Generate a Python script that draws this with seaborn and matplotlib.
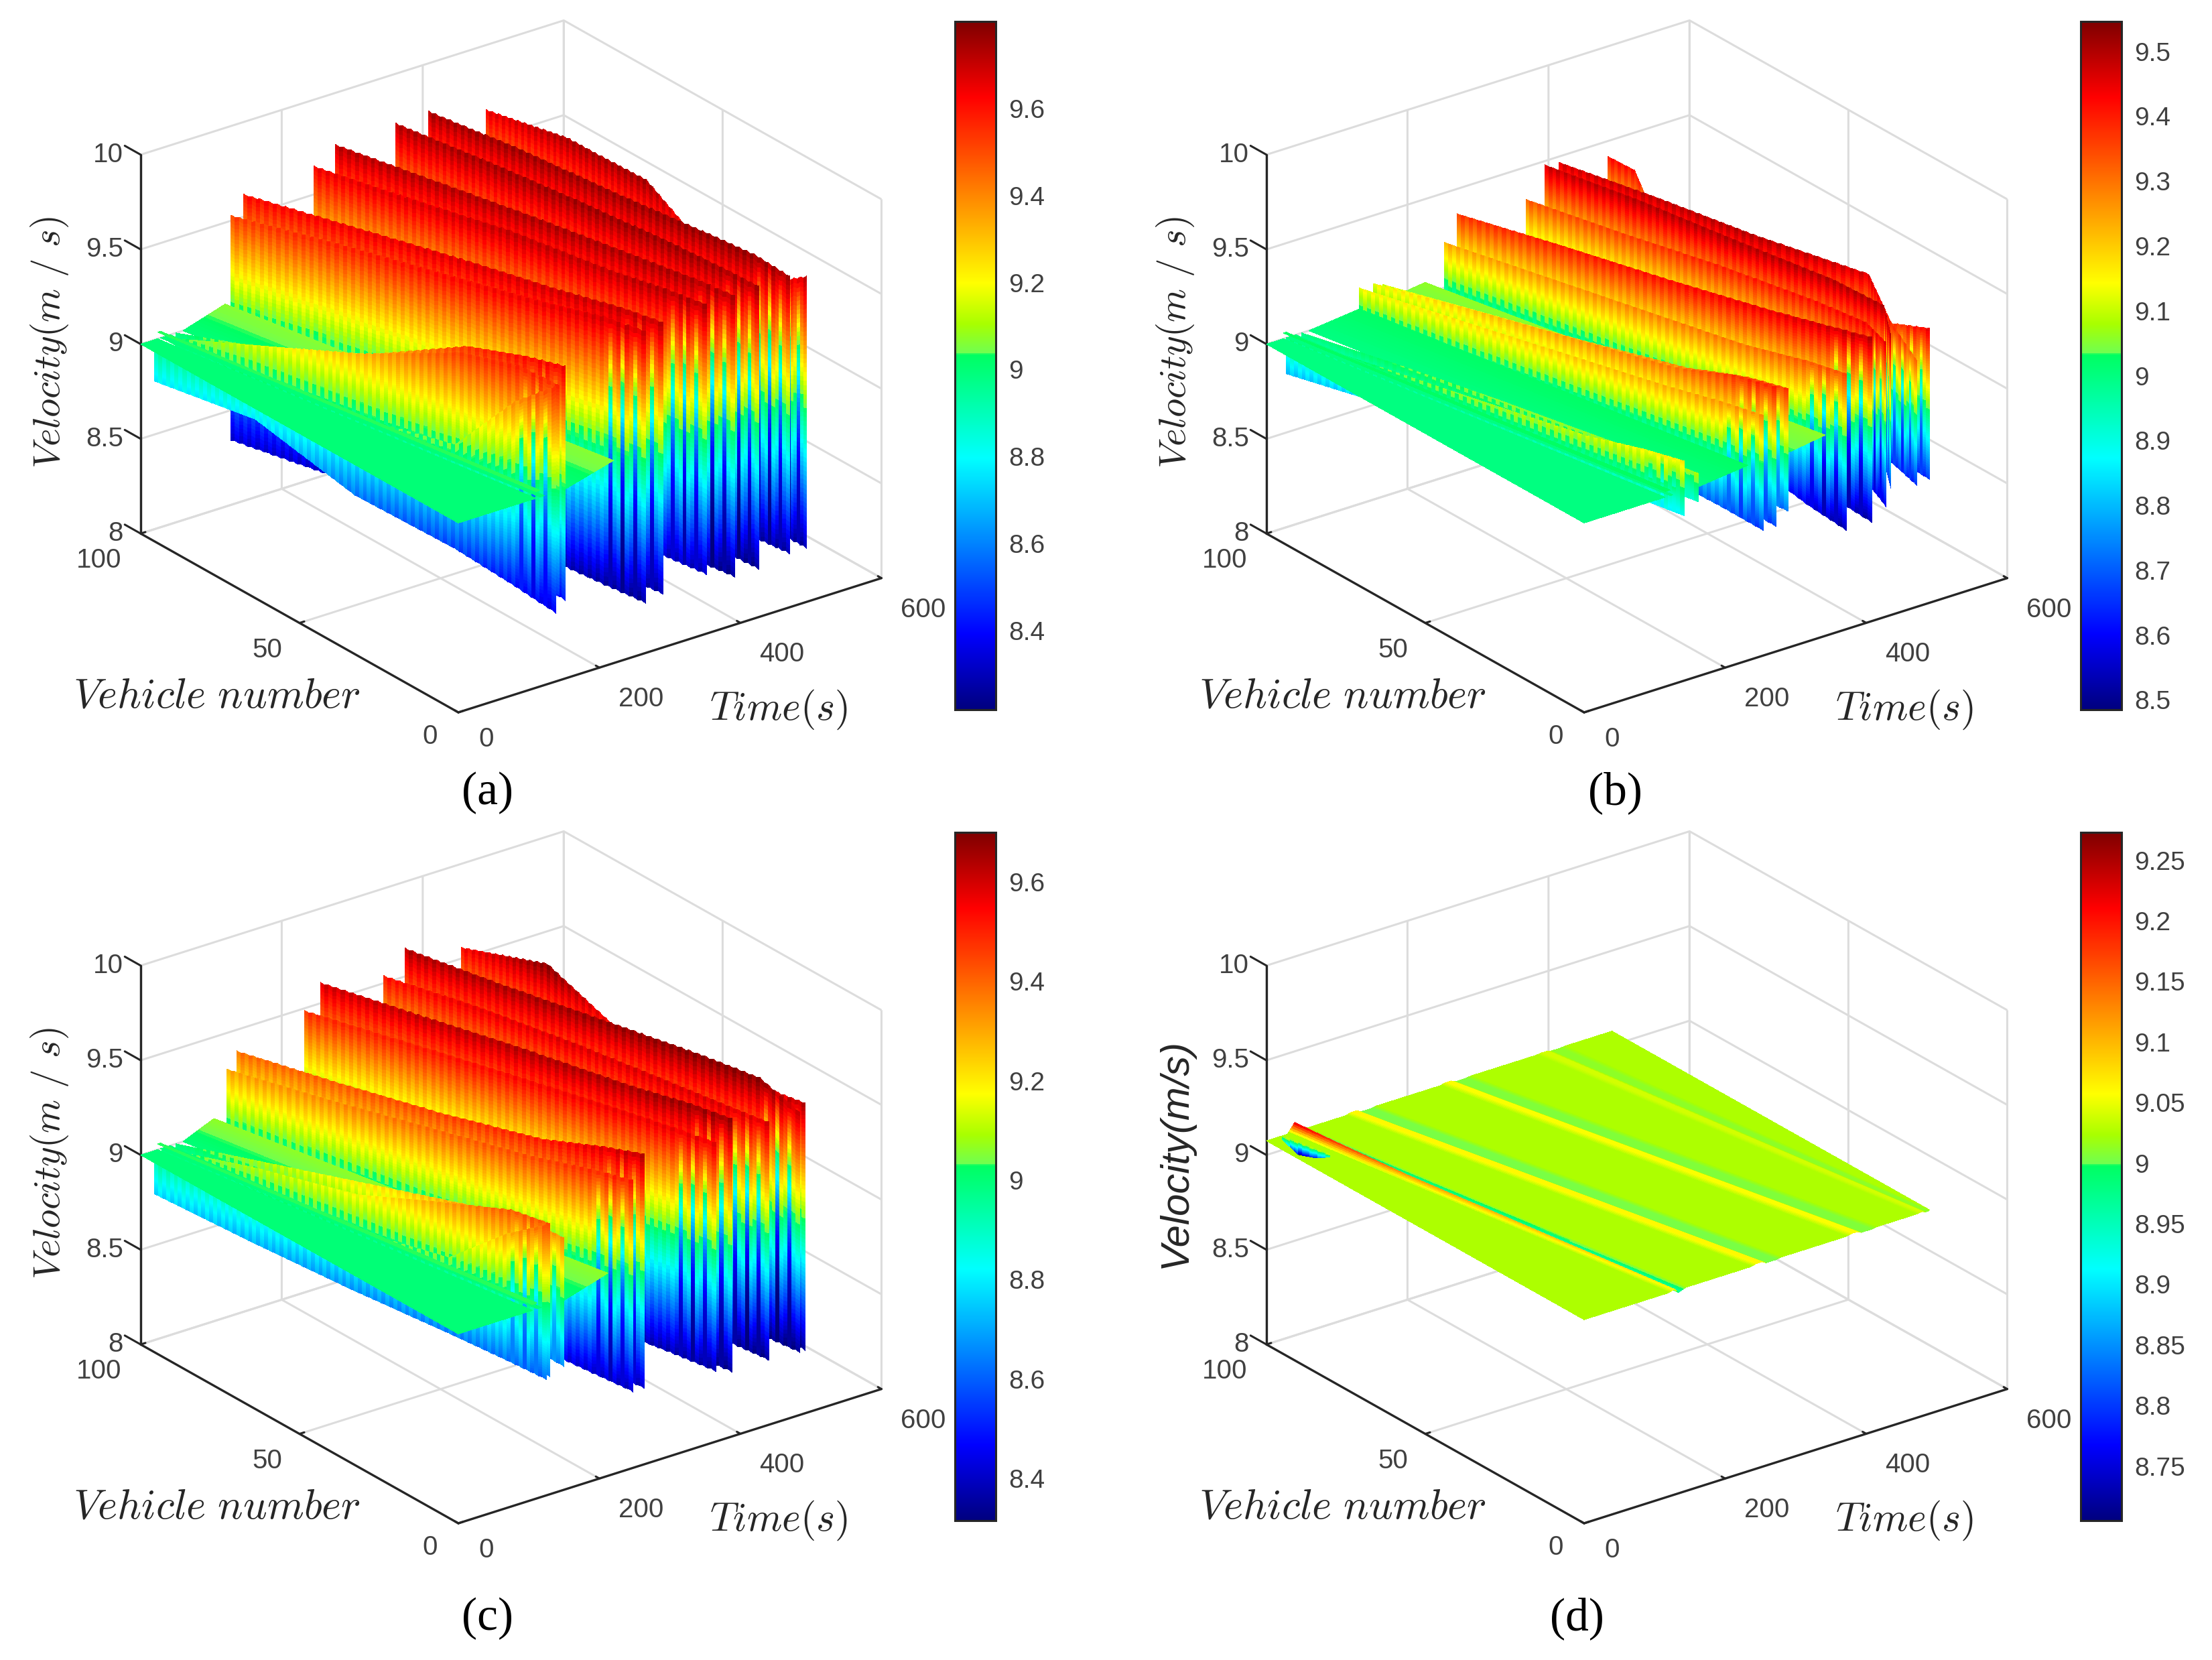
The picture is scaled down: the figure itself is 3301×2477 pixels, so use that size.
import numpy as np
import matplotlib
matplotlib.use("Agg")
import matplotlib.pyplot as plt
import seaborn as sns
from matplotlib.colors import Normalize, LinearSegmentedColormap
from matplotlib.cm import ScalarMappable
from mpl_toolkits.mplot3d import proj3d

sns.set_theme(style="white")
plt.rcParams['font.family'] = ['Liberation Sans', 'DejaVu Sans']
plt.rcParams['mathtext.fontset'] = 'cm'

W_PX, H_PX = 3301, 2477
# the colour bars are a jet with a small step just above the middle
JET_STOPS = [0.0, 0.11, 0.365, 0.516, 0.518, 0.56, 0.62, 0.89, 1.0]
JET_COLORS = ['#00007f', '#0000ff', '#00ffff', '#00ff60', '#70ff50', '#a8ff00', '#ffff00', '#ff0000', '#7f0000']
JET = LinearSegmentedColormap.from_list('jet_step', list(zip(JET_STOPS, JET_COLORS)), N=512)
sns.set_palette(sns.color_palette(JET_COLORS))

V_ST = [100, 75, 50, 25, 10, 0]

# ---- panel (a)
A_RANGE = [8.218, 9.80]
A_TICKS = [8.4, 8.6, 8.8, 9, 9.2, 9.4, 9.6]
A_T = [[20, 50, 79, 108, 126, 138], [30, 58, 86, 115, 132, 143], [50, 75, 101, 126, 142, 152],
       [128, 163, 197, 232, 252, 266], [146, 182, 218, 254, 276, 290], [246, 273, 299, 326, 341, 352],
       [276, 305, 334, 363, 380, 392], [362, 378, 394, 410, 420, 426], [408, 424, 439, 454, 464, 470],
       [490, 491, 492, 493, 494, 494]]
A_TOP = [[9.0, 9.0, 9.0, 9.05, 9.4, 9.56], [9.0, 9.16, 9.32, 9.53, 9.58, 9.56], [9.0, 9.12, 9.3, 9.55, 9.62, 9.65],
         [9.53, 9.58, 9.62, 9.66, 9.7, 9.7], [9.62, 9.65, 9.68, 9.7, 9.72, 9.72], [9.65, 9.68, 9.72, 9.72, 9.74, 9.74],
         [9.73, 9.74, 9.75, 9.75, 9.75, 9.74], [9.74, 9.76, 9.77, 9.77, 9.76, 9.75], [9.75, 9.77, 9.77, 9.78, 9.78, 9.75],
         [9.66, 9.75, 9.76, 9.5, 9.6, 9.72]]
A_BOT = [[8.78, 8.78, 8.58, 8.5, 8.42, 8.36], [9.0, 8.9, 8.8, 8.7, 8.5, 8.45], [8.95, 8.85, 8.7, 8.55, 8.45, 8.41],
         [8.34, 8.34, 8.33, 8.31, 8.28, 8.26], [8.4, 8.38, 8.35, 8.32, 8.3, 8.28], [8.4, 8.38, 8.36, 8.33, 8.32, 8.31],
         [8.35, 8.33, 8.3, 8.28, 8.26, 8.25], [8.35, 8.33, 8.3, 8.28, 8.26, 8.25], [8.35, 8.33, 8.31, 8.3, 8.28, 8.28],
         [8.35, 8.33, 8.31, 8.3, 8.28, 8.28]]
# flat parts: time of near edge at v=100/v=0, far edge at v=100/v=0, height near/far
A_SHELF = [[0, 0, 24, 110, 9.0, 9.0], [24, 110, 28, 116, 9.035, 9.035], [28, 116, 42, 122, 9.0, 9.0],
           [60, 152, 120, 220, 9.0, 9.07]]

# ---- panel (b)
B_RANGE = [8.485, 9.546]
B_TICKS = [8.5, 8.6, 8.7, 8.8, 8.9, 9, 9.1, 9.2, 9.3, 9.4, 9.5]
B_T = [[28, 56, 85, 114, 131, 142], [32, 60, 87, 115, 131, 142], [50, 78, 106, 134, 151, 162],
       [132, 162, 193, 224, 242, 254], [152, 182, 212, 242, 260, 272], [165, 196, 227, 258, 277, 289],
       [252, 282, 312, 342, 360, 372], [270, 304, 339, 374, 394, 408], [368, 392, 416, 440, 445, 428],
       [395, 418, 441, 466, 470, 435], [415, 441, 466, 516, 480, 472], [486, 486, 487, 488, 489, 490]]
B_TOP = [[9.0, 9.0, 9.0, 9.0, 9.0, 9.0], [9.0, 9.03, 9.06, 9.09, 9.14, 9.16], [9.0, 9.03, 9.05, 9.06, 9.07, 9.07],
         [9.14, 9.17, 9.2, 9.23, 9.26, 9.27], [9.14, 9.2, 9.25, 9.3, 9.38, 9.4], [9.12, 9.17, 9.22, 9.28, 9.35, 9.37],
         [9.24, 9.26, 9.28, 9.3, 9.34, 9.35], [9.37, 9.4, 9.42, 9.45, 9.48, 9.5], [9.33, 9.36, 9.4, 9.42, 9.44, 9.45],
         [9.48, 9.5, 9.5, 9.5, 9.5, 9.48], [9.47, 9.49, 9.5, 9.47, 9.4, 9.3], [9.1, 9.1, 9.1, 9.25, 9.38, 9.45]]
B_BOT = [[8.81, 8.85, 8.88, 8.88, 8.87, 8.87], [8.98, 8.95, 8.92, 8.9, 8.88, 8.87], [8.98, 8.96, 8.95, 8.94, 8.92, 8.92],
         [8.95, 8.88, 8.8, 8.75, 8.7, 8.66], [8.95, 8.88, 8.8, 8.75, 8.7, 8.66], [8.98, 8.9, 8.84, 8.78, 8.74, 8.72],
         [8.98, 8.9, 8.8, 8.7, 8.58, 8.52], [8.95, 8.85, 8.75, 8.65, 8.58, 8.52], [8.9, 8.8, 8.7, 8.65, 8.6, 8.58],
         [8.9, 8.8, 8.72, 8.7, 8.68, 8.67], [8.9, 8.8, 8.72, 8.7, 8.66, 8.64], [8.9, 8.8, 8.72, 8.7, 8.66, 8.65]]
B_SHELF = [[0, 0, 24, 115, 9.0, 9.0], [24, 115, 28, 122, 9.03, 9.03], [28, 122, 42, 126, 9.0, 9.0],
           [60, 162, 132, 232, 9.0, 9.03], [165, 289, 225, 342, 9.03, 9.06]]
B_BLOCK_V = [100, 92, 88]
B_BLOCK_T = [484, 486, 486]
B_BLOCK_TOP = [9.42, 9.42, 9.3]
B_BLOCK_BOT = [9.0, 9.0, 9.0]

# ---- panel (c)
C_RANGE = [8.315, 9.70]
C_TICKS = [8.4, 8.6, 8.8, 9, 9.2, 9.4, 9.6]
C_T = [[20, 46, 72, 99, 114, 125], [30, 55, 80, 105, 120, 130], [50, 75, 100, 125, 140, 150],
       [122, 153, 185, 216, 235, 248], [136, 168, 200, 232, 251, 264], [232, 265, 298, 332, 352, 365],
       [255, 288, 322, 355, 375, 388], [345, 369, 392, 416, 430, 440], [375, 402, 430, 457, 473, 484],
       [455, 464, 474, 483, 488, 492]]
C_TOP = [[9.0, 9.0, 9.0, 9.05, 9.3, 9.43], [9.0, 9.1, 9.17, 9.33, 9.42, 9.43], [9.0, 9.1, 9.2, 9.3, 9.35, 9.33],
         [9.31, 9.35, 9.4, 9.45, 9.5, 9.52], [9.39, 9.42, 9.46, 9.52, 9.6, 9.64], [9.49, 9.52, 9.55, 9.57, 9.58, 9.58],
         [9.61, 9.63, 9.65, 9.66, 9.68, 9.68], [9.54, 9.58, 9.6, 9.6, 9.6, 9.6], [9.65, 9.66, 9.68, 9.7, 9.7, 9.6],
         [9.56, 9.7, 9.5, 9.55, 9.62, 9.64]]
C_BOT = [[8.77, 8.72, 8.68, 8.65, 8.63, 8.61], [8.98, 8.9, 8.85, 8.75, 8.65, 8.62], [8.98, 8.9, 8.8, 8.72, 8.68, 8.65],
         [8.7, 8.6, 8.5, 8.45, 8.42, 8.4], [8.5, 8.47, 8.45, 8.43, 8.41, 8.4], [8.45, 8.43, 8.41, 8.39, 8.38, 8.37],
         [8.42, 8.4, 8.38, 8.36, 8.35, 8.34], [8.42, 8.4, 8.38, 8.36, 8.35, 8.34], [8.4, 8.38, 8.36, 8.35, 8.34, 8.33],
         [8.4, 8.38, 8.36, 8.35, 8.34, 8.33]]
C_SHELF = [[0, 0, 24, 105, 9.0, 9.0], [24, 105, 28, 112, 9.03, 9.03], [28, 112, 42, 118, 9.0, 9.0],
           [60, 150, 104, 212, 9.0, 9.07]]

# ---- panel (d): lines across the nearly flat sheet at these vehicles, colour value along each line
D_RANGE = [8.705, 9.273]
D_TICKS = [8.75, 8.8, 8.85, 8.9, 8.95, 9, 9.05, 9.1, 9.15, 9.2, 9.25]
D_V = [100, 90, 70, 0]
D_LINE_T = [[0, 0, 0, 0], [30, 39, 57, 119], [40, 49, 66, 128], [46, 55, 72, 134], [56, 65, 82, 144],
            [112, 124, 149, 236], [120, 132, 157, 244], [128, 140, 165, 252], [134, 146, 171, 258], [148, 160, 185, 272], [156, 168, 193, 280],
            [246, 258, 283, 371], [254, 266, 291, 379], [262, 274, 299, 387], [268, 280, 305, 393], [282, 294, 319, 407], [290, 302, 327, 415],
            [382, 391, 408, 470], [390, 399, 415, 476], [398, 406, 422, 480], [404, 412, 428, 484], [416, 423, 437, 488], [424, 431, 444, 490],
            [490, 490, 490, 490]]
D_Z_BASE = [9.025, 9.025, 9.025, 9.025]
D_Z_B1 = [[9.25, 9.2, 9.13, 9.07], [8.9, 8.92, 8.93, 8.96]]
D_Z_B2 = [9.06, 9.06, 9.06, 9.06]
D_Z_B2T = [9.003, 9.003, 9.003, 9.003]
D_Z_B3 = [9.055, 9.055, 9.055, 9.055]
D_Z_B3T = [9.006, 9.006, 9.006, 9.006]
D_Z_B4 = [9.04, 9.04, 9.04, 9.04]
D_Z_B4T = [9.012, 9.012, 9.012, 9.012]
D_LINE_Z = [D_Z_BASE, D_Z_BASE, D_Z_B1[0], D_Z_B1[1], D_Z_BASE,
            D_Z_BASE, D_Z_B2, D_Z_B2, D_Z_B2T, D_Z_B2T, D_Z_BASE,
            D_Z_BASE, D_Z_B3, D_Z_B3, D_Z_B3T, D_Z_B3T, D_Z_BASE,
            D_Z_BASE, D_Z_B4, D_Z_B4, D_Z_B4T, D_Z_B4T, D_Z_BASE,
            D_Z_BASE]
D_DIP_V = [100, 96, 92, 88]
D_DIP_T = [22, 27, 31, 36]
D_DIP_TOP = [9.025, 9.025, 9.025, 9.025]
D_DIP_BOT = [8.95, 8.72, 8.8, 8.95]
D_BASE = 9.025
D_LEVEL = 9.075
D_RELIEF = 0.22

X_TICKS = [0, 200, 400, 600]
Y_TICKS = [0, 50, 100]
Z_TICKS = [8, 8.5, 9, 9.5, 10]
Z_LABELS = ['8', '8.5', '9', '9.5', '10']

GRID_C = '#dcdcdc'
INK = '#262626'
TXT = '#404040'
TICK_SIZE = 29
ASPECT = (1, 1, 0.79)
# screen targets of the box corners for panel (a), pixels from the top left
LEFT_PX = (210.5, 796)
BOTTOM_PX = (684, 1063)
RIGHT_PX = (1316, 859)


def tessellate(v, t1, z1, t2, z2, nrow):
    # fine mesh so the facets can carry a height gradient like shading interp
    vv = np.linspace(v[0], v[-1], max(2, int(abs(v[0] - v[-1])) + 1))
    s = np.linspace(0, 1, nrow + 1)[:, None]
    a1 = np.interp(vv, v[::-1], t1[::-1])
    a2 = np.interp(vv, v[::-1], t2[::-1])
    b1 = np.interp(vv, v[::-1], z1[::-1])
    b2 = np.interp(vv, v[::-1], z2[::-1])
    X = a1 + s * (a2 - a1)
    Z = b1 + s * (b2 - b1)
    Y = np.tile(vv, (nrow + 1, 1))
    return X, Y, Z


def flatten(Z, relief):
    if relief is None:
        return Z
    return D_LEVEL + (Z - D_BASE) * relief


def draw_wall(ax, v, t, top, bot, norm, relief=None):
    X, Y, Z = tessellate(v, t, bot, t, top, 60)
    span = norm.vmax - norm.vmin
    # comb of the neighbouring vehicles
    idx = np.arange(Z.shape[1])
    comb = np.where(idx % 2 == 1, 1.0, -1.0)
    rows = np.linspace(0, 1, Z.shape[0])[:, None]
    height = Z[-1] - Z[0]
    G = Z - (comb > 0) * (rows - 0.5) * height * 0.012
    C = Z + comb * 0.016 * span * np.minimum(1.0, height / (0.15 * span))
    # the last vehicles swing harder: narrow spikes that taper towards both ends of the wall
    spike = (Y[0] <= 9) & (idx % 3 == 1)
    C = C - spike * 4 * rows * (1 - rows) * 0.3 * height
    ax.plot_surface(X, Y, flatten(G, relief), facecolors=JET(norm(C)), rstride=1, cstride=1, shade=False,
                    antialiased=False, linewidth=0, zorder=1000 - np.mean(t))


def draw_shelf(ax, v, t1, z1, t2, z2, norm, nrow=12, relief=None):
    X, Y, Z = tessellate(v, t1, z1, t2, z2, nrow)
    ax.plot_surface(X, Y, flatten(Z, relief), facecolors=JET(norm(Z)), rstride=1, cstride=1, shade=False,
                    antialiased=False, linewidth=0, zorder=1000 - np.mean(X))


def px_of(ax, x, y, z):
    xp, yp, _ = proj3d.proj_transform(x, y, z, ax.get_proj())
    return ax.transData.transform((xp, yp))


def fit_axes(ax, dx, dy):
    # move and zoom the 3D box until its floor corners land on the target pixels
    zoom = 1.0
    for _ in range(4):
        ax.apply_aspect()
        left = px_of(ax, 0, 100, 8)
        right = px_of(ax, 600, 0, 8)
        zoom *= (RIGHT_PX[0] - LEFT_PX[0]) / (right[0] - left[0])
        ax.set_box_aspect(ASPECT, zoom=zoom)
        ax.apply_aspect()
        bottom = px_of(ax, 0, 0, 8)
        pos = ax.get_position()
        shift_x = (BOTTOM_PX[0] + dx - bottom[0]) / W_PX
        shift_y = (H_PX - BOTTOM_PX[1] - dy - bottom[1]) / H_PX
        ax.set_position([pos.x0 + shift_x, pos.y0 + shift_y, pos.width, pos.height])


def style_axes(ax, dx, dy, zlabel, math_label=True):
    ax.set_proj_type('ortho')
    ax.view_init(elev=25, azim=-126.9)
    ax.set_xticks(X_TICKS, [''] * 4)
    ax.set_yticks(Y_TICKS, [''] * 3)
    ax.set_zticks(Z_TICKS, [''] * 5)
    for axis in (ax.xaxis, ax.yaxis, ax.zaxis):
        axis.set_pane_color((1, 1, 1, 0))
        axis.pane.set_edgecolor(GRID_C)
        axis.pane.set_linewidth(2.2)
        axis.line.set_color(INK)
        axis.line.set_linewidth(2.4)
        axis._axinfo['grid'].update(color=GRID_C, linewidth=2.2)
        axis._axinfo['tick'].update(inward_factor=0.0, outward_factor=0.14, linewidth={True: 2.2, False: 2.2}, color=INK)
    # matplotlib puts the z axis on the far right corner here, the figure has it on the left one
    ax.zaxis.line.set_color('none')
    ax.zaxis._axinfo['tick'].update(inward_factor=0.0, outward_factor=0.0)
    ax.plot([0, 0], [100, 100], [8, 10], color=INK, lw=2.4, zorder=1)
    for z in Z_TICKS:
        ax.plot([0, 0], [100, 105], [z, z], color=INK, lw=2.2, zorder=1)
    ax.set_xlim(0, 600, view_margin=0)
    ax.set_ylim(0, 100, view_margin=0)
    ax.set_zlim(8, 10, view_margin=0)
    ax.grid(True)
    fit_axes(ax, dx, dy)

    def put(px, off, s):
        fig.text((px[0] + off[0]) / W_PX, (px[1] - off[1]) / H_PX, s, ha='center', va='center',
                 fontsize=TICK_SIZE, color=TXT)

    for t in X_TICKS:
        put(px_of(ax, t, 0, 8), (42, 40) if t == 0 else (62, 47), str(t))
    for v in Y_TICKS:
        put(px_of(ax, 0, v, 8), (-42 if v == 0 else (-48 if v == 50 else -62), 40 if v else 36), str(v))
    for z, s in zip(Z_TICKS, Z_LABELS):
        p = px_of(ax, 0, 100, z)
        fig.text((p[0] - 26) / W_PX, (p[1]) / H_PX, s, ha='right', va='center', fontsize=TICK_SIZE, color=TXT)

    fig.text((324 + dx) / W_PX, 1 - (1039 + dy) / H_PX, r'$Vehicle\ number$', ha='center', va='center', fontsize=45, color=INK)
    fig.text((1162 + dx) / W_PX, 1 - (1059 + dy) / H_PX, r'$Time(s)$', ha='center', va='center', fontsize=43, color=INK)
    if math_label:
        fig.text((74 + dx) / W_PX, 1 - (511 + dy) / H_PX, zlabel, rotation=90, ha='center', va='center', fontsize=41, color=INK)
    else:
        fig.text((74 + dx) / W_PX, 1 - (510 + dy) / H_PX, zlabel, rotation=90, ha='center', va='center', fontsize=43, color=INK, style='italic')


def add_colorbar(x0, rng, ticks, dy):
    norm = Normalize(rng[0], rng[1])
    cax = fig.add_axes([x0 / W_PX, 1 - (1059 + dy) / H_PX, 61 / W_PX, 1027 / H_PX])
    cb = fig.colorbar(ScalarMappable(norm=norm, cmap=JET), cax=cax)
    cb.set_ticks(ticks, labels=[f'{k:g}' for k in ticks])
    cb.ax.tick_params(direction='in', length=7, width=2.2, color=INK, labelsize=TICK_SIZE - 1, labelcolor=TXT, pad=14)
    cb.outline.set_edgecolor(INK)
    cb.outline.set_linewidth(2.2)


def draw_panel(rect_x, rect_y, rng, walls, shelves, zlabel, math_label=True):
    ax = fig.add_axes([(rect_x + 60) / W_PX, 1 - (rect_y + 1140) / H_PX, 1300 / W_PX, 1130 / H_PX], projection='3d')
    ax.computed_zorder = False
    norm = Normalize(rng[0], rng[1])
    for t, top, bot in zip(*walls):
        draw_wall(ax, V_ST, t, top, bot, norm)
    for row in shelves:
        draw_shelf(ax, [100, 0], [row[0], row[1]], [row[4], row[4]], [row[2], row[3]], [row[5], row[5]], norm)
    style_axes(ax, rect_x, rect_y, zlabel, math_label)
    return ax, norm


fig = plt.figure(figsize=(W_PX / 100, H_PX / 100), dpi=100, facecolor='white')
VEL_M = r'$Velocity(m\ /\ s)$'

draw_panel(0, 0, A_RANGE, (A_T, A_TOP, A_BOT), A_SHELF, VEL_M)
ax_b, norm_b = draw_panel(1680, 0, B_RANGE, (B_T, B_TOP, B_BOT), B_SHELF, VEL_M)
draw_wall(ax_b, B_BLOCK_V, B_BLOCK_T, B_BLOCK_TOP, B_BLOCK_BOT, norm_b)
draw_panel(0, 1210, C_RANGE, (C_T, C_TOP, C_BOT), C_SHELF, VEL_M)

ax_d, norm_d = draw_panel(1680, 1210, D_RANGE, ([], [], []), [], 'Velocity(m/s)', math_label=False)
for i in range(len(D_LINE_T) - 1):
    draw_shelf(ax_d, D_V, D_LINE_T[i], D_LINE_Z[i], D_LINE_T[i + 1], D_LINE_Z[i + 1], norm_d, nrow=6, relief=D_RELIEF)
draw_wall(ax_d, D_DIP_V, D_DIP_T, D_DIP_TOP, D_DIP_BOT, norm_d, relief=D_RELIEF)

add_colorbar(1425, A_RANGE, A_TICKS, 0)
add_colorbar(3105, B_RANGE, B_TICKS, 0)
add_colorbar(1425, C_RANGE, C_TICKS, 1210)
add_colorbar(3105, D_RANGE, D_TICKS, 1210)

for s, x, y in [('(a)', 727, 1183), ('(b)', 2410, 1183), ('(c)', 727, 2415), ('(d)', 2353, 2415)]:
    fig.text(x / W_PX, 1 - y / H_PX, s, ha='center', va='center', fontsize=50, color='black',
             family=['Liberation Serif', 'DejaVu Serif'])

fig.savefig('out.png', dpi=100)
